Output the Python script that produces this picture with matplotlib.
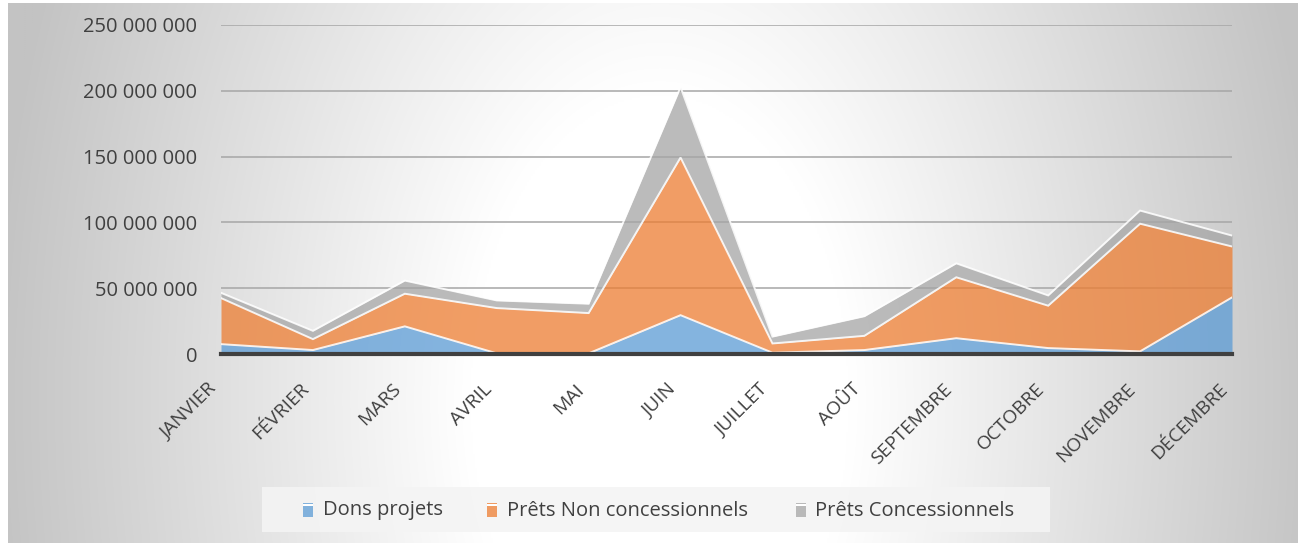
import numpy as np
import matplotlib
matplotlib.use("Agg")
import matplotlib.pyplot as plt
import matplotlib.transforms as mtransforms
from matplotlib.patches import Rectangle
from matplotlib.ticker import FuncFormatter

months = ["JANVIER", "FÉVRIER", "MARS", "AVRIL", "MAI", "JUIN", "JUILLET",
          "AOÛT", "SEPTEMBRE", "OCTOBRE", "NOVEMBRE", "DÉCEMBRE"]
dons_projets = [7.5, 3.0, 21.0, 0.5, 0.5, 29.5, 1.0, 3.0, 12.0, 4.5, 2.0, 43.0]
prets_non_conc = [35.0, 8.3, 24.8, 34.4, 30.6, 119.8, 7.0, 10.8, 46.3, 32.2, 97.0, 38.7]
prets_conc = [4.0, 6.3, 10.0, 5.8, 7.1, 53.5, 5.2, 14.9, 10.6, 7.8, 10.0, 8.3]
series_names = ["Dons projets", "Prêts Non concessionnels", "Prêts Concessionnels"]
yticks = [0, 50e6, 100e6, 150e6, 200e6, 250e6]

W, H = 1302, 546
fig = plt.figure(figsize=(W / 100, H / 100), dpi=100)
fig.patch.set_facecolor("white")

# radial gradient background
bg = fig.add_axes([8 / W, 3 / H, 1290 / W, 540 / H], zorder=0)
xs = np.linspace(8, 1298, 650)
ys = np.linspace(3, 543, 270)
X, Y = np.meshgrid(xs, ys)
d = np.sqrt((X - 660) ** 2 + ((Y - 400) * 0.62) ** 2)
t = np.clip((d - 190) / 480, 0, 1)
v = (255 - 60 * t) / 255
img = np.dstack([v, v, v])
bg.imshow(img, extent=[0, 1, 0, 1], aspect="auto", origin="upper", interpolation="bilinear")
bg.set_axis_off()

ax = fig.add_axes([221 / W, 1 - 354 / H, (1232 - 221) / W, (354 - 25) / H], zorder=1)
ax.patch.set_alpha(0)

x = np.arange(len(months))
b = np.array(dons_projets) * 1e6
o = np.array(prets_non_conc) * 1e6
g = np.array(prets_conc) * 1e6
s1 = b
s2 = b + o
s3 = b + o + g

colors = ["#5B9BD5", "#ED7D31", "#A5A5A5"]
alpha = 0.75
ax.fill_between(x, 0, s1, color=colors[0], alpha=alpha, lw=0, zorder=3)
ax.fill_between(x, s1, s2, color=colors[1], alpha=alpha, lw=0, zorder=3)
ax.fill_between(x, s2, s3, color=colors[2], alpha=alpha, lw=0, zorder=3)
for top in (s1, s2, s3):
    ax.plot(x, top, color="white", lw=1.4, alpha=0.85, zorder=4, solid_joinstyle="miter")

ax.set_xlim(0, len(months) - 1)
ax.set_ylim(0, 250e6)
ax.set_yticks(yticks)
ax.yaxis.set_major_formatter(FuncFormatter(lambda v, p: f"{int(v):,}".replace(",", " ")))
ax.grid(axis="y", color="#a6a6a6", lw=1.1, zorder=1)
ax.set_axisbelow(True)
for sp in ["top", "right", "left"]:
    ax.spines[sp].set_visible(False)
ax.spines["bottom"].set_color("#404040")
ax.spines["bottom"].set_linewidth(3.0)
ax.spines["bottom"].set_zorder(6)
ax.tick_params(axis="both", length=0, colors="#404040")
ax.tick_params(axis="y", pad=17, labelsize=14.5)
ax.set_xticks(x)
ax.set_xticklabels(months, rotation=45, ha="right", va="center", rotation_mode="anchor",
                   fontsize=13.8, color="#404040")
ax.tick_params(axis="x", pad=14)
offset = mtransforms.ScaledTranslation(-0.07, -0.13, fig.dpi_scale_trans)
for lab in ax.get_xticklabels():
    lab.set_transform(lab.get_transform() + offset)
for lab in ax.get_yticklabels() + ax.get_xticklabels():
    lab.set_fontfamily("Open Sans")
    lab.set_color("#404040")

# legend box
fig.patches.append(Rectangle((262 / W, 1 - 532 / H), (1050 - 262) / W, 45 / H,
                             transform=fig.transFigure, facecolor="#f4f4f4",
                             edgecolor="none", alpha=0.9, zorder=2))
items = [(303, 323), (487, 507), (796, 815)]
for (mx, tx), name, c in zip(items, series_names, colors):
    fig.patches.append(Rectangle((mx / W, 1 - 517 / H), 10 / W, 14 / H,
                                 transform=fig.transFigure, facecolor=c, alpha=0.75,
                                 edgecolor="none", zorder=3))
    fig.patches.append(Rectangle((mx / W, 1 - 506 / H), 10 / W, 2 / H,
                                 transform=fig.transFigure, facecolor="white",
                                 edgecolor="none", zorder=4))
    fig.text(tx / W, 1 - 510.5 / H, name, fontsize=14.5, family="Open Sans",
             color="#404040", va="center", ha="left", zorder=5)

fig.savefig("out.png", dpi=100)
